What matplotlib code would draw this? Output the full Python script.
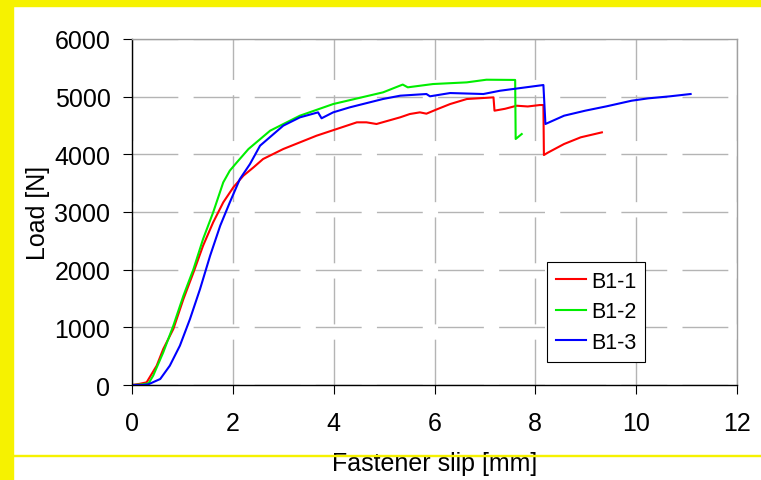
import matplotlib.pyplot as plt
from matplotlib.patches import Rectangle

plt.rcParams['font.family'] = ['Liberation Sans', 'DejaVu Sans']

# B1-1 (red)
b11_x = [0, 0.15, 0.29, 0.49, 0.62, 0.82, 1.02, 1.22, 1.41, 1.61, 1.81, 2.01, 2.21, 2.41,
         2.6, 3.0, 3.66, 4.46, 4.65, 4.85, 5.32, 5.51, 5.71, 5.84, 6.06, 6.31, 6.64,
         7.17, 7.19, 7.4, 7.63, 7.85, 8.09, 8.16, 8.17, 8.25, 8.57, 8.9, 9.32]
b11_y = [0, 20, 46, 335, 624, 971, 1491, 1954, 2416, 2821, 3167, 3428, 3630, 3774,
         3919, 4092, 4323, 4555, 4555, 4526, 4642, 4699, 4728, 4705, 4785, 4872, 4959,
         4988, 4757, 4790, 4843, 4830, 4855, 4855, 3988, 4030, 4179, 4295, 4381]

# B1-2 (green)
b12_x = [0, 0.2, 0.33, 0.42, 0.62, 0.82, 1.02, 1.22, 1.41, 1.61, 1.81, 1.94, 2.08, 2.31,
         2.74, 3.33, 3.99, 4.98, 5.37, 5.47, 5.97, 6.64, 7.03, 7.6, 7.61, 7.73]
b12_y = [0, 10, 30, 162, 566, 1029, 1549, 2011, 2532, 2994, 3514, 3717, 3861, 4092,
         4410, 4670, 4872, 5075, 5210, 5162, 5219, 5248, 5294, 5290, 4266, 4352]

# B1-3 (blue)
b13_x = [0, 0.2, 0.32, 0.56, 0.75, 0.95, 1.15, 1.35, 1.55, 1.75, 1.94, 2.14, 2.34,
         2.54, 3.0, 3.33, 3.69, 3.76, 3.99, 4.32, 4.98, 5.32, 5.84, 5.91, 6.31, 6.97,
         7.3, 8.16, 8.2, 8.57, 8.99, 9.41, 9.91, 10.24, 10.66, 11.08]
b13_y = [0, 0, 10, 104, 335, 682, 1144, 1665, 2243, 2763, 3167, 3572, 3832,
         4150, 4497, 4641, 4728, 4625, 4728, 4815, 4960, 5017, 5046, 5006, 5063, 5046,
         5103, 5202, 4526, 4670, 4757, 4832, 4930, 4971, 5005, 5046]

x_ticks = [0, 2, 4, 6, 8, 10, 12]
y_ticks = [0, 1000, 2000, 3000, 4000, 5000, 6000]

fig = plt.figure(figsize=(7.61, 4.81), dpi=100)

# yellow frame pieces
yellow = '#F6F200'
fig.patches.append(Rectangle((0, 0), 13 / 761, 1, transform=fig.transFigure,
                             color=yellow, zorder=0))
fig.patches.append(Rectangle((0, 1 - 7 / 481), 1, 7 / 481, transform=fig.transFigure,
                             color=yellow, zorder=0))
fig.patches.append(Rectangle((13 / 761, 1 - 457 / 481), 1, 1.2 / 481,
                             transform=fig.transFigure, color=yellow, zorder=0))

ax = fig.add_axes([132 / 761, 1 - 386 / 481, 605 / 761, 346 / 481])

ax.plot(b11_x, b11_y, color='#FF0000', lw=1.5, label='B1-1')
ax.plot(b12_x, b12_y, color='#00EE00', lw=1.5, label='B1-2')
ax.plot(b13_x, b13_y, color='#0000FF', lw=1.5, label='B1-3')

ax.set_xlim(0, 12)
ax.set_ylim(0, 6000)
ax.set_xticks(x_ticks)
ax.set_yticks(y_ticks)

ax.grid(True, color='#B4B4B4', lw=1.0, linestyle=(0, (33, 11)))
ax.set_axisbelow(True)

for s in ['top', 'right']:
    ax.spines[s].set_color('#A0A0A0')
    ax.spines[s].set_linewidth(1.0)
for s in ['left', 'bottom']:
    ax.spines[s].set_color('black')
    ax.spines[s].set_linewidth(1.0)

ax.tick_params(axis='x', direction='out', length=6.5, width=0.8, labelsize=18, pad=12)
ax.tick_params(axis='y', direction='out', length=6.5, width=0.8, labelsize=18, pad=9)

ax.set_xlabel('Fastener slip [mm]', fontsize=18, labelpad=12)
ax.set_ylabel('Load [N]', fontsize=18, labelpad=3)

leg = ax.legend(loc='upper left', bbox_to_anchor=(547 / 761, 1 - 263 / 481),
                bbox_transform=fig.transFigure, borderaxespad=0, fontsize=15.5,
                fancybox=False, framealpha=1, edgecolor='black', handlelength=1.4,
                handletextpad=0.25, labelspacing=0.45, borderpad=0.4)
leg.get_frame().set_linewidth(0.8)

fig.savefig('out.png', dpi=100)
